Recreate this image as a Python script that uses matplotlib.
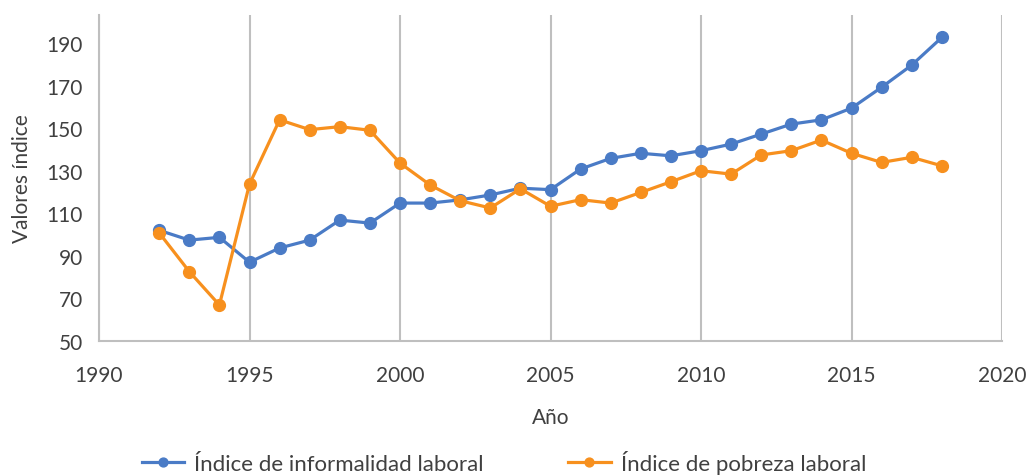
import matplotlib
matplotlib.use("Agg")
import matplotlib.pyplot as plt
from matplotlib.ticker import MultipleLocator

plt.rcParams['font.family'] = ['Lato', 'DejaVu Sans']

years = list(range(1992, 2019))
informalidad = [102.0, 97.4, 98.7, 87.0, 93.7, 97.4, 106.8, 105.4, 114.8,
                114.8, 116.3, 118.6, 121.8, 121.1, 130.8, 135.8, 138.2,
                137.0, 139.4, 142.5, 147.2, 151.9, 153.9, 159.4, 169.2,
                179.6, 192.6]
pobreza = [100.8, 82.6, 66.9, 123.7, 153.9, 149.3, 150.7, 149.0, 133.6,
           123.3, 115.9, 112.5, 121.5, 113.3, 116.4, 114.8, 119.8, 124.8,
           130.0, 128.4, 137.4, 139.4, 144.4, 138.2, 133.9, 136.3, 132.3]

label_inf = "Índice de informalidad laboral"
label_pob = "Índice de pobreza laboral"
xlabel = "Año"
ylabel = "Valores índice"

blue = "#4A7BC6"
orange = "#F7901E"
grid_c = "#BFBFBF"
text_c = "#404040"

fig = plt.figure(figsize=(10.30, 4.77), dpi=100)
ax = fig.add_axes([99/1030, 1 - 342/477, (1002-99)/1030, (342-15.7)/477])

ax.plot(years, informalidad, color=blue, lw=2.3, marker='o', ms=8.5,
        label=label_inf, zorder=3)
ax.plot(years, pobreza, color=orange, lw=2.3, marker='o', ms=8.5,
        label=label_pob, zorder=3)

ax.set_xlim(1990, 2020)
ax.set_ylim(50, 203.3)
ax.xaxis.set_major_locator(MultipleLocator(5))
ax.set_yticks(range(50, 200, 20))
ax.grid(axis='x', color=grid_c, lw=1.5, zorder=0)
for s in ['top', 'right']:
    ax.spines[s].set_visible(False)
for s in ['left', 'bottom']:
    ax.spines[s].set_color(grid_c)
    ax.spines[s].set_linewidth(1.5)
ax.tick_params(length=0, labelsize=15, colors=text_c)
ax.tick_params(axis='x', pad=17)
ax.tick_params(axis='y', pad=11.5)
ax.set_xlabel(xlabel, fontsize=15, color=text_c, va='center')
ax.set_ylabel(ylabel, fontsize=15, color=text_c, va='center')
ax.xaxis.set_label_coords(0.5, (342 - 418) / (342 - 15.7))
ax.yaxis.set_label_coords((22 - 99) / (1002 - 99), 0.5)

fig.legend(loc='center', bbox_to_anchor=(504/1030, 1 - 463/477), ncol=2,
           frameon=False, fontsize=16, labelcolor=text_c, columnspacing=3.8,
           handlelength=1.9, handletextpad=0.45, markerscale=0.75)

fig.savefig("out.png", dpi=100)
